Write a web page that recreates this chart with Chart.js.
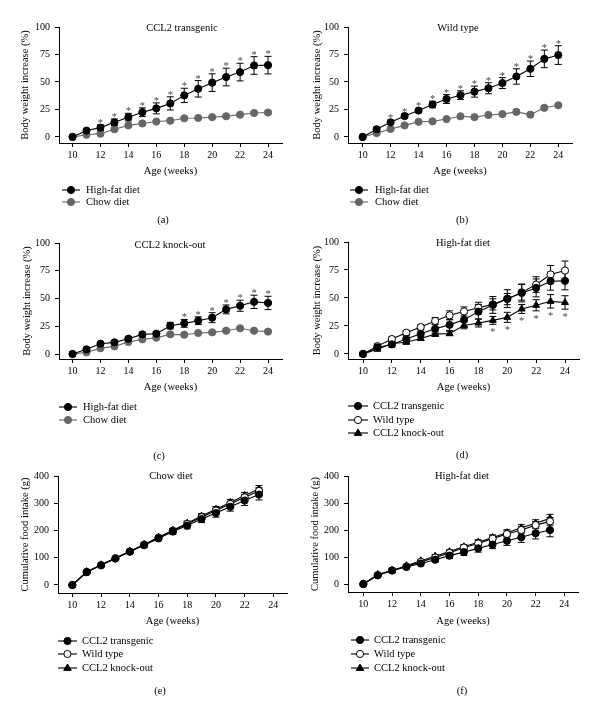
<!DOCTYPE html>
<html>
<head>
<meta charset="utf-8">
<script src="https://cdn.jsdelivr.net/npm/chart.js@4.4.1/dist/chart.umd.min.js"></script>
<style>
  html, body { margin: 0; padding: 0; background: #fff; }
  #page { position: relative; width: 600px; height: 718px; overflow: hidden; }
  canvas { position: absolute; }
</style>
</head>
<body>
<div id="page"></div>
<script>
// weeks and ticks
const weeks = [10, 11, 12, 13, 14, 15, 16, 17, 18, 19, 20, 21, 22, 23, 24];
const foodWeeks = [10, 11, 12, 13, 14, 15, 16, 17, 18, 19, 20, 21, 22, 23];
const weekTicks = [10, 12, 14, 16, 18, 20, 22, 24];
const bodyTicks = [0, 25, 50, 75, 100];
const foodTicks = [0, 100, 200, 300, 400];

// body weight increase (%) - CCL2 transgenic
const tgHighFat = [0, 5.8, 8.5, 13.3, 18, 22.5, 26, 30.5, 37.8, 43.8, 49.4, 54.5, 59, 65, 65.3];
const tgHighFatErr = [0.5, 1.5, 2.5, 3, 3.5, 4, 5, 6, 6.5, 7.5, 8, 8, 8, 8, 8];
const tgChow = [0, 2, 3, 7, 10.5, 12.3, 14, 14.8, 17, 17.3, 18, 18.8, 20.3, 21.8, 22.2];
const tgChowErr = [0.5, 0.8, 1, 1, 1, 1, 1, 1, 1, 1, 1, 1, 1, 1.5, 1.5];
const tgStars = [12, 13, 14, 15, 16, 17, 18, 19, 20, 21, 22, 23, 24];

// wild type
const wtHighFat = [0, 7, 13.3, 19, 24, 29.5, 34.5, 38, 41.2, 44.3, 49, 55, 62, 71, 74.5];
const wtHighFatErr = [0.5, 2, 2, 2, 2, 3, 4, 4, 5, 5, 5, 7, 7, 8, 8.5];
const wtChow = [0, 3.5, 7.3, 10.5, 13.8, 14.2, 16.3, 18.8, 18, 20, 20.8, 22.8, 20.3, 26.5, 28.8];
const wtChowErr = [0.5, 1, 1, 1, 1, 1, 1, 1, 1, 1, 1, 2, 1, 1, 1];
const wtStars = [12, 13, 14, 15, 16, 17, 18, 19, 20, 21, 22, 23, 24];

// CCL2 knock-out
const koHighFat = [0, 4.2, 9.3, 10.5, 13.8, 17.7, 18.3, 25.5, 27.6, 30, 32.7, 40.2, 43.5, 47, 46];
const koHighFatErr = [0.5, 1, 1.5, 1.5, 1.5, 2, 2, 3, 3.5, 3.5, 4.5, 4, 5, 6, 6];
const koChow = [0, 1.5, 5.2, 6.9, 10.8, 13.2, 14.7, 17.7, 17.4, 18.9, 19.5, 21, 23.2, 21, 20.2];
const koChowErr = [0.5, 0.8, 1, 1, 1, 1, 1, 1, 1, 1, 1, 1.5, 1, 1, 1];
const koStars = [18, 19, 20, 21, 22, 23, 24];
const hfdStars = [19, 20, 21, 22, 23, 24];

// cumulative food intake (g) - chow diet
const chowFoodTg = [0, 47, 72, 97, 122, 146, 171, 196, 218, 242, 264, 287, 310, 332];
const chowFoodTgErr = [1, 4, 4, 4, 5, 6, 8, 10, 12, 13, 15, 16, 18, 20];
const chowFoodWt = [0, 48, 73, 98, 123, 148, 174, 199, 224, 249, 273, 297, 322, 345];
const chowFoodWtErr = [1, 3, 3, 3, 4, 5, 6, 7, 8, 9, 10, 10, 11, 12];
const chowFoodKo = [0, 49, 74, 99, 124, 149, 175, 201, 227, 253, 278, 303, 328, 352];
const chowFoodKoErr = [1, 3, 3, 3, 4, 5, 6, 7, 8, 9, 10, 11, 12, 13];

// cumulative food intake (g) - high-fat diet
const hfdFoodTg = [0, 32, 50, 63, 76, 90, 105, 118, 132, 146, 160, 173, 188, 200];
const hfdFoodTgErr = [1, 5, 5, 5, 6, 8, 10, 12, 14, 15, 17, 19, 21, 25];
const hfdFoodWt = [0, 33, 50, 65, 82, 98, 115, 135, 150, 168, 185, 200, 218, 232];
const hfdFoodWtErr = [1, 4, 4, 4, 5, 6, 7, 8, 9, 10, 11, 12, 13, 14];
const hfdFoodKo = [0, 35, 50, 68, 86, 103, 120, 138, 155, 172, 190, 208, 225, 243];
const hfdFoodKoErr = [1, 4, 4, 4, 5, 6, 7, 8, 9, 10, 11, 12, 13, 15];

const FONT = '"Liberation Serif", "DejaVu Serif", serif';
const BLACK = '#000';
const GREY = '#666';

// dataset helpers
function series(label, xs, ys, errs, style) {
  return Object.assign({
    label: label,
    data: xs.map((w, i) => ({ x: w, y: ys[i] })),
    errs: errs,
    borderWidth: 1.1,
    pointRadius: 3.6,
    pointBorderWidth: 1,
    tension: 0
  }, style);
}
const stHfd = { borderColor: BLACK, backgroundColor: BLACK, pointBackgroundColor: BLACK, pointBorderColor: BLACK, pointStyle: 'circle' };
const stChow = { borderColor: GREY, backgroundColor: GREY, pointBackgroundColor: GREY, pointBorderColor: GREY, pointStyle: 'circle' };
const stTg = stHfd;
const stWt = { borderColor: BLACK, backgroundColor: '#fff', pointBackgroundColor: '#fff', pointBorderColor: BLACK, pointStyle: 'circle' };
const stKo = { borderColor: BLACK, backgroundColor: BLACK, pointBackgroundColor: BLACK, pointBorderColor: BLACK, pointStyle: 'triangle', pointRadius: 4 };

// marker for the legend
function drawMarker(ctx, style, fill, stroke, x, y, r) {
  ctx.save();
  ctx.fillStyle = fill;
  ctx.strokeStyle = stroke;
  ctx.lineWidth = 1;
  ctx.beginPath();
  if (style === 'triangle') {
    ctx.moveTo(x, y - r);
    ctx.lineTo(x + r * 0.95, y + r * 0.6);
    ctx.lineTo(x - r * 0.95, y + r * 0.6);
    ctx.closePath();
  } else {
    ctx.arc(x, y, r, 0, Math.PI * 2);
  }
  ctx.fill();
  ctx.stroke();
  ctx.restore();
}

// error bars, asterisks, title, legend and panel letter
function extras(p) {
  const [bx, by] = p.box;
  return {
    id: 'extras',
    beforeDatasetsDraw(chart) {
      const ctx = chart.ctx;
      const ys = chart.scales.y;
      chart.data.datasets.forEach((ds, i) => {
        const meta = chart.getDatasetMeta(i);
        ctx.save();
        ctx.strokeStyle = ds.borderColor;
        ctx.lineWidth = 1;
        meta.data.forEach((pt, j) => {
          const e = ds.errs[j];
          if (!e) return;
          const v = ds.data[j].y;
          const y1 = ys.getPixelForValue(v + e);
          const y2 = ys.getPixelForValue(v - e);
          ctx.beginPath();
          ctx.moveTo(pt.x, y1); ctx.lineTo(pt.x, y2);
          ctx.moveTo(pt.x - 3.5, y1); ctx.lineTo(pt.x + 3.5, y1);
          ctx.moveTo(pt.x - 3.5, y2); ctx.lineTo(pt.x + 3.5, y2);
          ctx.stroke();
        });
        ctx.restore();
      });
    },
    afterDatasetsDraw(chart) {
      if (!p.stars) return;
      const ctx = chart.ctx;
      const xs = chart.scales.x, ys = chart.scales.y;
      const ds = chart.data.datasets[p.stars.ds];
      ctx.save();
      ctx.fillStyle = '#444';
      ctx.font = '10.5px ' + FONT;
      ctx.textAlign = 'center';
      ctx.textBaseline = 'alphabetic';
      p.stars.weeks.forEach(w => {
        const j = ds.data.findIndex(d => d.x === w);
        const v = ds.data[j].y, e = ds.errs[j];
        const x = xs.getPixelForValue(w);
        if (p.stars.below) {
          ctx.fillText('*', x, ys.getPixelForValue(v - e) + 11);
        } else {
          ctx.fillText('*', x, ys.getPixelForValue(v + e) + 1);
        }
      });
      ctx.restore();
    },
    afterDraw(chart) {
      const ctx = chart.ctx;
      ctx.save();
      ctx.fillStyle = '#000';
      ctx.font = '10.5px ' + FONT;
      ctx.textBaseline = 'middle';
      ctx.textAlign = 'center';
      ctx.fillText(p.title, p.titlePos[0] - bx, p.titlePos[1] - by);
      ctx.fillText(p.letter, p.letterPos[0] - bx, p.letterPos[1] - by);
      // legend
      const lg = p.legend;
      chart.data.datasets.forEach((ds, i) => {
        const y = lg.rows[i] - by;
        const x1 = lg.x1 - bx, x2 = lg.x2 - bx;
        ctx.strokeStyle = ds.borderColor;
        ctx.lineWidth = 1.1;
        ctx.beginPath();
        ctx.moveTo(x1, y); ctx.lineTo(x2, y);
        ctx.stroke();
        drawMarker(ctx, ds.pointStyle, ds.pointBackgroundColor, ds.pointBorderColor, (x1 + x2) / 2, y, ds.pointStyle === 'triangle' ? 4 : 3.6);
        ctx.fillStyle = '#000';
        ctx.textAlign = 'left';
        ctx.fillText(ds.label, lg.tx - bx, y);
      });
      ctx.restore();
    }
  };
}

function makePanel(p) {
  const [bx, by, bw, bh] = p.box;
  const [l, t, r, b] = p.area;
  const lh = 10.5 * 1.2;
  const xH = p.xTitleY + lh / 2 - b;
  const yW = l - bx;
  const cv = document.createElement('canvas');
  cv.width = bw; cv.height = bh;
  cv.style.left = bx + 'px';
  cv.style.top = by + 'px';
  document.getElementById('page').appendChild(cv);

  const tickFont = { family: FONT, size: 10 };
  const titleFont = { family: FONT, size: 10.5 };
  const grid = { display: true, drawOnChartArea: false, drawTicks: true, tickLength: 4, color: '#000', lineWidth: 1 };
  const border = { display: true, color: '#000', width: 1 };

  new Chart(cv, {
    type: 'line',
    data: { datasets: p.datasets },
    options: {
      responsive: false,
      animation: false,
      events: [],
      layout: { padding: { left: 0, top: t - by, right: bx + bw - r, bottom: by + bh - b - xH } },
      plugins: { legend: { display: false }, tooltip: { enabled: false }, title: { display: false } },
      scales: {
        x: {
          type: 'linear',
          min: p.xRange[0], max: p.xRange[1],
          afterBuildTicks: s => { s.ticks = weekTicks.map(v => ({ value: v })); },
          afterFit: s => { s.height = xH; },
          grid: grid, border: border,
          ticks: { font: tickFont, color: '#000', padding: 2, autoSkip: false, maxRotation: 0 },
          title: { display: true, text: 'Age (weeks)', font: titleFont, color: '#000', padding: { top: 0, bottom: 0 } }
        },
        y: {
          type: 'linear',
          min: p.yRange[0], max: p.yRange[1],
          afterBuildTicks: s => { s.ticks = p.yTicks.map(v => ({ value: v })); },
          afterFit: s => { s.width = yW; },
          grid: grid, border: border,
          ticks: { font: tickFont, color: '#000', padding: 5, autoSkip: false },
          title: { display: true, text: p.yTitle, font: titleFont, color: '#000', padding: { top: p.yTitleX - bx - lh / 2, bottom: 0 } }
        }
      }
    },
    plugins: [extras(p)]
  });
}

const bwTitle = 'Body weight increase (%)';
const foodTitle = 'Cumulative food intake (g)';

// (a) CCL2 transgenic
makePanel({
  box: [0, 0, 300, 240], area: [59, 27, 282, 143],
  xRange: [9.03, 25], yRange: [-5.5, 100], yTicks: bodyTicks,
  yTitle: bwTitle, yTitleX: 25, xTitleY: 171,
  title: 'CCL2 transgenic', titlePos: [182, 28], letter: '(a)', letterPos: [163, 220],
  legend: { x1: 62, x2: 80, tx: 86, rows: [190, 202] },
  stars: { ds: 0, weeks: tgStars },
  datasets: [
    series('High-fat diet', weeks, tgHighFat, tgHighFatErr, stHfd),
    series('Chow diet', weeks, tgChow, tgChowErr, stChow)
  ]
});

// (b) wild type
makePanel({
  box: [300, 0, 300, 240], area: [348, 27, 572, 143],
  xRange: [8.95, 24.98], yRange: [-5.5, 100], yTicks: bodyTicks,
  yTitle: bwTitle, yTitleX: 317, xTitleY: 171,
  title: 'Wild type', titlePos: [458, 28], letter: '(b)', letterPos: [462, 220],
  legend: { x1: 350, x2: 368, tx: 375, rows: [190, 202] },
  stars: { ds: 0, weeks: wtStars },
  datasets: [
    series('High-fat diet', weeks, wtHighFat, wtHighFatErr, stHfd),
    series('Chow diet', weeks, wtChow, wtChowErr, stChow)
  ]
});

// (c) CCL2 knock-out
makePanel({
  box: [0, 226, 300, 240], area: [59, 243, 282, 359],
  xRange: [9.03, 25], yRange: [-4.5, 100], yTicks: bodyTicks,
  yTitle: bwTitle, yTitleX: 27, xTitleY: 387,
  title: 'CCL2 knock-out', titlePos: [170, 245], letter: '(c)', letterPos: [159, 456],
  legend: { x1: 59, x2: 77, tx: 83, rows: [407, 420] },
  stars: { ds: 0, weeks: koStars },
  datasets: [
    series('High-fat diet', weeks, koHighFat, koHighFatErr, stHfd),
    series('Chow diet', weeks, koChow, koChowErr, stChow)
  ]
});

// (d) high-fat diet, three genotypes
makePanel({
  box: [300, 226, 300, 240], area: [348, 242, 579, 359],
  xRange: [8.96, 24.97], yRange: [-4.5, 100], yTicks: bodyTicks,
  yTitle: bwTitle, yTitleX: 317, xTitleY: 387,
  title: 'High-fat diet', titlePos: [463, 243], letter: '(d)', letterPos: [462, 455],
  legend: { x1: 348, x2: 368, tx: 373, rows: [406, 420, 433] },
  stars: { ds: 2, weeks: hfdStars, below: true },
  datasets: [
    series('CCL2 transgenic', weeks, tgHighFat, tgHighFatErr, stTg),
    series('Wild type', weeks, wtHighFat, wtHighFatErr, stWt),
    series('CCL2 knock-out', weeks, koHighFat, koHighFatErr, stKo)
  ]
});

// (e) cumulative food intake, chow diet
makePanel({
  box: [0, 462, 300, 256], area: [58, 476, 287, 593],
  xRange: [9.0, 24.95], yRange: [-29.4, 400], yTicks: foodTicks,
  yTitle: foodTitle, yTitleX: 25, xTitleY: 621,
  title: 'Chow diet', titlePos: [171, 476], letter: '(e)', letterPos: [160, 691],
  legend: { x1: 58, x2: 77, tx: 82, rows: [641, 654, 668] },
  datasets: [
    series('CCL2 transgenic', foodWeeks, chowFoodTg, chowFoodTgErr, stTg),
    series('Wild type', foodWeeks, chowFoodWt, chowFoodWtErr, stWt),
    series('CCL2 knock-out', foodWeeks, chowFoodKo, chowFoodKoErr, stKo)
  ]
});

// (f) cumulative food intake, high-fat diet
makePanel({
  box: [300, 462, 300, 256], area: [348, 476, 578, 592],
  xRange: [8.93, 24.95], yRange: [-29.6, 400], yTicks: foodTicks,
  yTitle: foodTitle, yTitleX: 315, xTitleY: 621,
  title: 'High-fat diet', titlePos: [462, 476], letter: '(f)', letterPos: [462, 691],
  legend: { x1: 351, x2: 369, tx: 374, rows: [640, 654, 668] },
  datasets: [
    series('CCL2 transgenic', foodWeeks, hfdFoodTg, hfdFoodTgErr, stTg),
    series('Wild type', foodWeeks, hfdFoodWt, hfdFoodWtErr, stWt),
    series('CCL2 knock-out', foodWeeks, hfdFoodKo, hfdFoodKoErr, stKo)
  ]
});
</script>
</body>
</html>
